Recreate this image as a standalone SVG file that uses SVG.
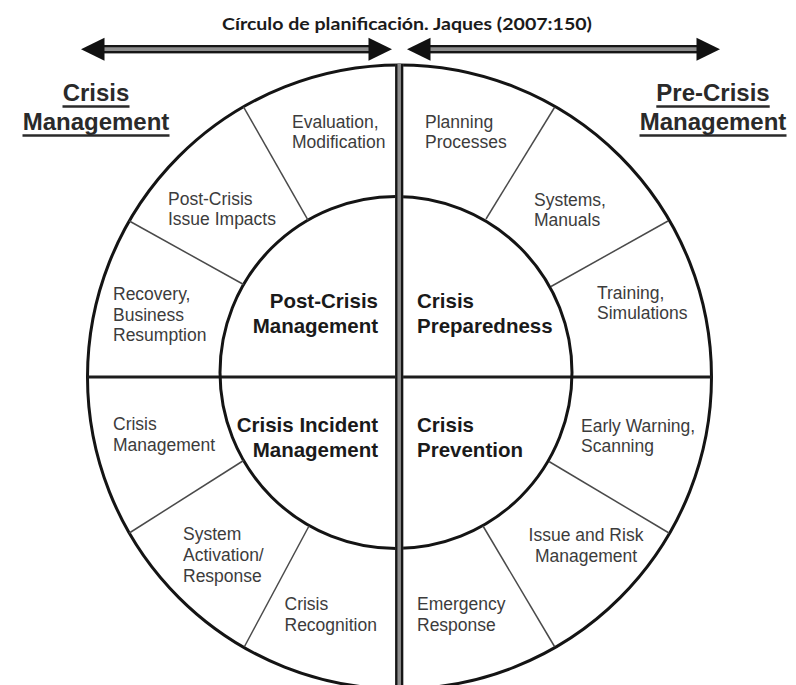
<svg xmlns="http://www.w3.org/2000/svg" width="796" height="685" viewBox="0 0 796 685">
  <style>
    .ring { fill: none; stroke: #141414; stroke-width: 3; }
    .axis { stroke: #1c1c1c; stroke-width: 3; }
    .spoke { stroke: #4a4a4a; stroke-width: 1.5; }
    .bar-fill { fill: #8e8e8e; }
    .bar-edge { stroke: #161616; stroke-width: 2.3; }
    .lbl { font-family: "Liberation Sans", Arial, sans-serif; font-size: 17.5px; fill: #3c3c3c; }
    .core { font-family: "Liberation Sans", Arial, sans-serif; font-size: 20.5px; font-weight: bold; fill: #1a1a1a; }
    .hdr { font-family: "Liberation Sans", Arial, sans-serif; font-size: 24px; font-weight: bold; fill: #2a2a2a; }
    .uline { stroke: #2a2a2a; stroke-width: 2.4; }
    .title { font-family: Lato, "Open Sans", "Liberation Sans", sans-serif; font-size: 17px; font-weight: bold; fill: #1b1b1b; }
    .mid { text-anchor: middle; }
    .end { text-anchor: end; }
  </style>
  <defs>
    <!-- arrowhead pointing right, tip at the origin -->
    <polygon id="head" points="0,0 -23.5,-11.5 -23.5,11.5" fill="#111"/>
  </defs>

  <rect width="796" height="685" fill="#ffffff"/>

  <text id="title" class="title mid" x="407" y="30" textLength="370" lengthAdjust="spacingAndGlyphs">Círculo de planificación. Jaques (2007:150)</text>

  <!-- double-shafted arrows over each half -->
  <g id="arrows">
    <g id="arrow-left">
      <rect x="100" y="45" width="271" height="8.4" class="bar-fill"/>
      <line x1="100" y1="46.2" x2="371" y2="46.2" class="bar-edge"/>
      <line x1="100" y1="52.2" x2="371" y2="52.2" class="bar-edge"/>
      <use href="#head" transform="translate(81,49.3) rotate(180)"/>
      <use href="#head" transform="translate(392,49.3)"/>
    </g>
    <g id="arrow-right">
      <rect x="428" y="45" width="272" height="8.4" class="bar-fill"/>
      <line x1="428" y1="46.2" x2="700" y2="46.2" class="bar-edge"/>
      <line x1="428" y1="52.2" x2="700" y2="52.2" class="bar-edge"/>
      <use href="#head" transform="translate(407,49.3) rotate(180)"/>
      <use href="#head" transform="translate(720,49.3)"/>
    </g>
  </g>

  <!-- side headings -->
  <g id="heading-crisis">
    <text class="hdr mid" x="96" y="101">Crisis</text>
    <text class="hdr mid" x="96" y="130">Management</text>
    <line class="uline" x1="62.5" y1="106.5" x2="129.5" y2="106.5"/>
    <line class="uline" x1="22.5" y1="135.5" x2="169.5" y2="135.5"/>
  </g>
  <g id="heading-precrisis">
    <text class="hdr mid" x="713" y="101">Pre-Crisis</text>
    <text class="hdr mid" x="713" y="130">Management</text>
    <line class="uline" x1="656.3" y1="106.5" x2="769.7" y2="106.5"/>
    <line class="uline" x1="639.5" y1="135.5" x2="786.5" y2="135.5"/>
  </g>

  <!-- rings, axis and sector spokes -->
  <g id="wheel">
    <circle class="ring" cx="399.5" cy="377" r="312"/>
    <line class="axis" x1="87" y1="377" x2="712" y2="377"/>
    <circle class="ring" cx="396" cy="372.5" r="176"/>
    <g id="spokes">
      <line class="spoke" x1="308" y1="220.1" x2="243.5" y2="106.8"/>
      <line class="spoke" x1="243.6" y1="284.5" x2="129.3" y2="221"/>
      <line class="spoke" x1="243.6" y1="460.5" x2="129.3" y2="533"/>
      <line class="spoke" x1="309" y1="526" x2="244.5" y2="646.5"/>
      <line class="spoke" x1="486" y1="219" x2="554.5" y2="107.5"/>
      <line class="spoke" x1="551" y1="286.5" x2="668" y2="221"/>
      <line class="spoke" x1="549" y1="461.5" x2="669" y2="533"/>
      <line class="spoke" x1="483" y1="526" x2="554.5" y2="646.5"/>
    </g>
    <!-- central divider: double rule with grey core -->
    <g id="divider">
      <rect x="395.2" y="64" width="8" height="621" class="bar-fill"/>
      <line x1="396.3" y1="64" x2="396.3" y2="685" class="bar-edge"/>
      <line x1="402.1" y1="64" x2="402.1" y2="685" class="bar-edge"/>
    </g>
  </g>

  <!-- inner quadrants -->
  <g id="core-post-crisis">
    <text class="core end" x="378" y="308">Post-Crisis</text>
    <text class="core end" x="378" y="333">Management</text>
  </g>
  <g id="core-preparedness">
    <text class="core" x="417" y="308">Crisis</text>
    <text class="core" x="417" y="333">Preparedness</text>
  </g>
  <g id="core-incident">
    <text class="core end" x="378" y="432">Crisis Incident</text>
    <text class="core end" x="378" y="457">Management</text>
  </g>
  <g id="core-prevention">
    <text class="core" x="417" y="432">Crisis</text>
    <text class="core" x="417" y="457">Prevention</text>
  </g>

  <!-- outer ring sectors -->
  <g id="seg-evaluation">
    <text class="lbl" x="292" y="128">Evaluation,</text>
    <text class="lbl" x="292" y="148">Modification</text>
  </g>
  <g id="seg-issue-impacts">
    <text class="lbl" x="168" y="205">Post-Crisis</text>
    <text class="lbl" x="168" y="225">Issue Impacts</text>
  </g>
  <g id="seg-recovery">
    <text class="lbl" x="113" y="300">Recovery,</text>
    <text class="lbl" x="113" y="320.5">Business</text>
    <text class="lbl" x="113" y="341">Resumption</text>
  </g>
  <g id="seg-crisis-management">
    <text class="lbl" x="113" y="430">Crisis</text>
    <text class="lbl" x="113" y="451">Management</text>
  </g>
  <g id="seg-activation">
    <text class="lbl" x="183" y="540">System</text>
    <text class="lbl" x="183" y="561">Activation/</text>
    <text class="lbl" x="183" y="581.5">Response</text>
  </g>
  <g id="seg-recognition">
    <text class="lbl" x="284.5" y="610">Crisis</text>
    <text class="lbl" x="284.5" y="631">Recognition</text>
  </g>
  <g id="seg-emergency">
    <text class="lbl" x="417" y="610">Emergency</text>
    <text class="lbl" x="417" y="631">Response</text>
  </g>
  <g id="seg-issue-risk">
    <text class="lbl mid" x="586" y="541">Issue and Risk</text>
    <text class="lbl mid" x="586" y="562">Management</text>
  </g>
  <g id="seg-early-warning">
    <text class="lbl" x="581" y="431.5">Early Warning,</text>
    <text class="lbl" x="581" y="451.5">Scanning</text>
  </g>
  <g id="seg-training">
    <text class="lbl" x="597" y="299">Training,</text>
    <text class="lbl" x="597" y="319">Simulations</text>
  </g>
  <g id="seg-systems">
    <text class="lbl" x="534" y="205.5">Systems,</text>
    <text class="lbl" x="534" y="225.5">Manuals</text>
  </g>
  <g id="seg-planning">
    <text class="lbl" x="425" y="128">Planning</text>
    <text class="lbl" x="425" y="147.5">Processes</text>
  </g>
</svg>
